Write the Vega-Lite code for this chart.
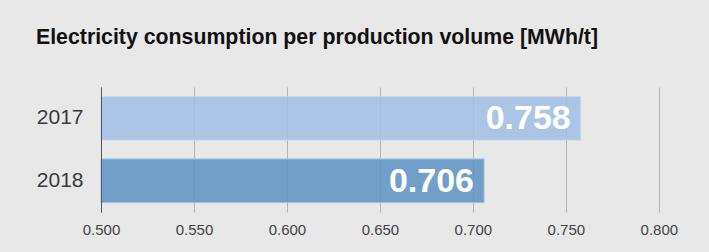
{
  "$schema": "https://vega.github.io/schema/vega-lite/v6.json",
  "autosize": "none",
  "padding": {"left": 101, "top": 87, "right": 13, "bottom": 40},
  "width": 595,
  "height": 125,
  "background": "#e8e8e8",
  "title": {
    "text": "Electricity consumption per production volume [MWh/t]",
    "anchor": "start",
    "frame": "group",
    "dx": -65,
    "offset": 22,
    "baseline": "alphabetic",
    "font": "Liberation Sans",
    "fontSize": 21.3,
    "fontWeight": "bold",
    "color": "#111111"
  },
  "config": {
    "view": {"stroke": null},
    "font": "Liberation Sans"
  },
  "data": {
    "values": [
      {"year": "2017", "value": 0.758},
      {"year": "2018", "value": 0.706}
    ]
  },
  "encoding": {
    "y": {
      "field": "year",
      "type": "nominal",
      "sort": ["2017", "2018"],
      "scale": {"paddingInner": 0.3, "paddingOuter": 0.15},
      "axis": {
        "title": null,
        "ticks": false,
        "labelPadding": 18,
        "labelFontSize": 21,
        "labelColor": "#3a3a3a",
        "labelFont": "Liberation Sans",
        "domainColor": "#555555",
        "domainWidth": 1,
        "grid": false,
        "zindex": 1
      }
    }
  },
  "layer": [
    {
      "mark": {"type": "bar", "fillOpacity": 0.88, "strokeWidth": 1},
      "encoding": {
        "x": {
          "field": "value",
          "type": "quantitative",
          "scale": {"domain": [0.5, 0.82], "nice": false, "zero": false},
          "axis": {
            "title": null,
            "values": [0.5, 0.55, 0.6, 0.65, 0.7, 0.75, 0.8],
            "format": ".3f",
            "ticks": false,
            "domain": false,
            "grid": true,
            "gridColor": "#b3b3b3",
            "gridWidth": 1,
            "labelPadding": 10,
            "labelFlush": false,
            "labelFontSize": 15,
            "labelColor": "#444444",
            "labelFont": "Liberation Sans"
          }
        },
        "x2": {"datum": 0.5},
        "color": {
          "field": "year",
          "type": "nominal",
          "scale": {"domain": ["2017", "2018"], "range": ["#a1bfe4", "#5f94c4"]},
          "legend": null
        },
        "stroke": {
          "field": "year",
          "type": "nominal",
          "scale": {"domain": ["2017", "2018"], "range": ["#c9daef", "#a7c3e0"]},
          "legend": null
        }
      }
    },
    {
      "mark": {
        "type": "text",
        "align": "right",
        "baseline": "middle",
        "dx": -10,
        "dy": 1,
        "fontSize": 34,
        "fontWeight": "bold",
        "color": "#ffffff",
        "font": "Liberation Sans"
      },
      "encoding": {
        "x": {"field": "value", "type": "quantitative"},
        "text": {"field": "value", "type": "quantitative", "format": ".3f"}
      }
    }
  ]
}
